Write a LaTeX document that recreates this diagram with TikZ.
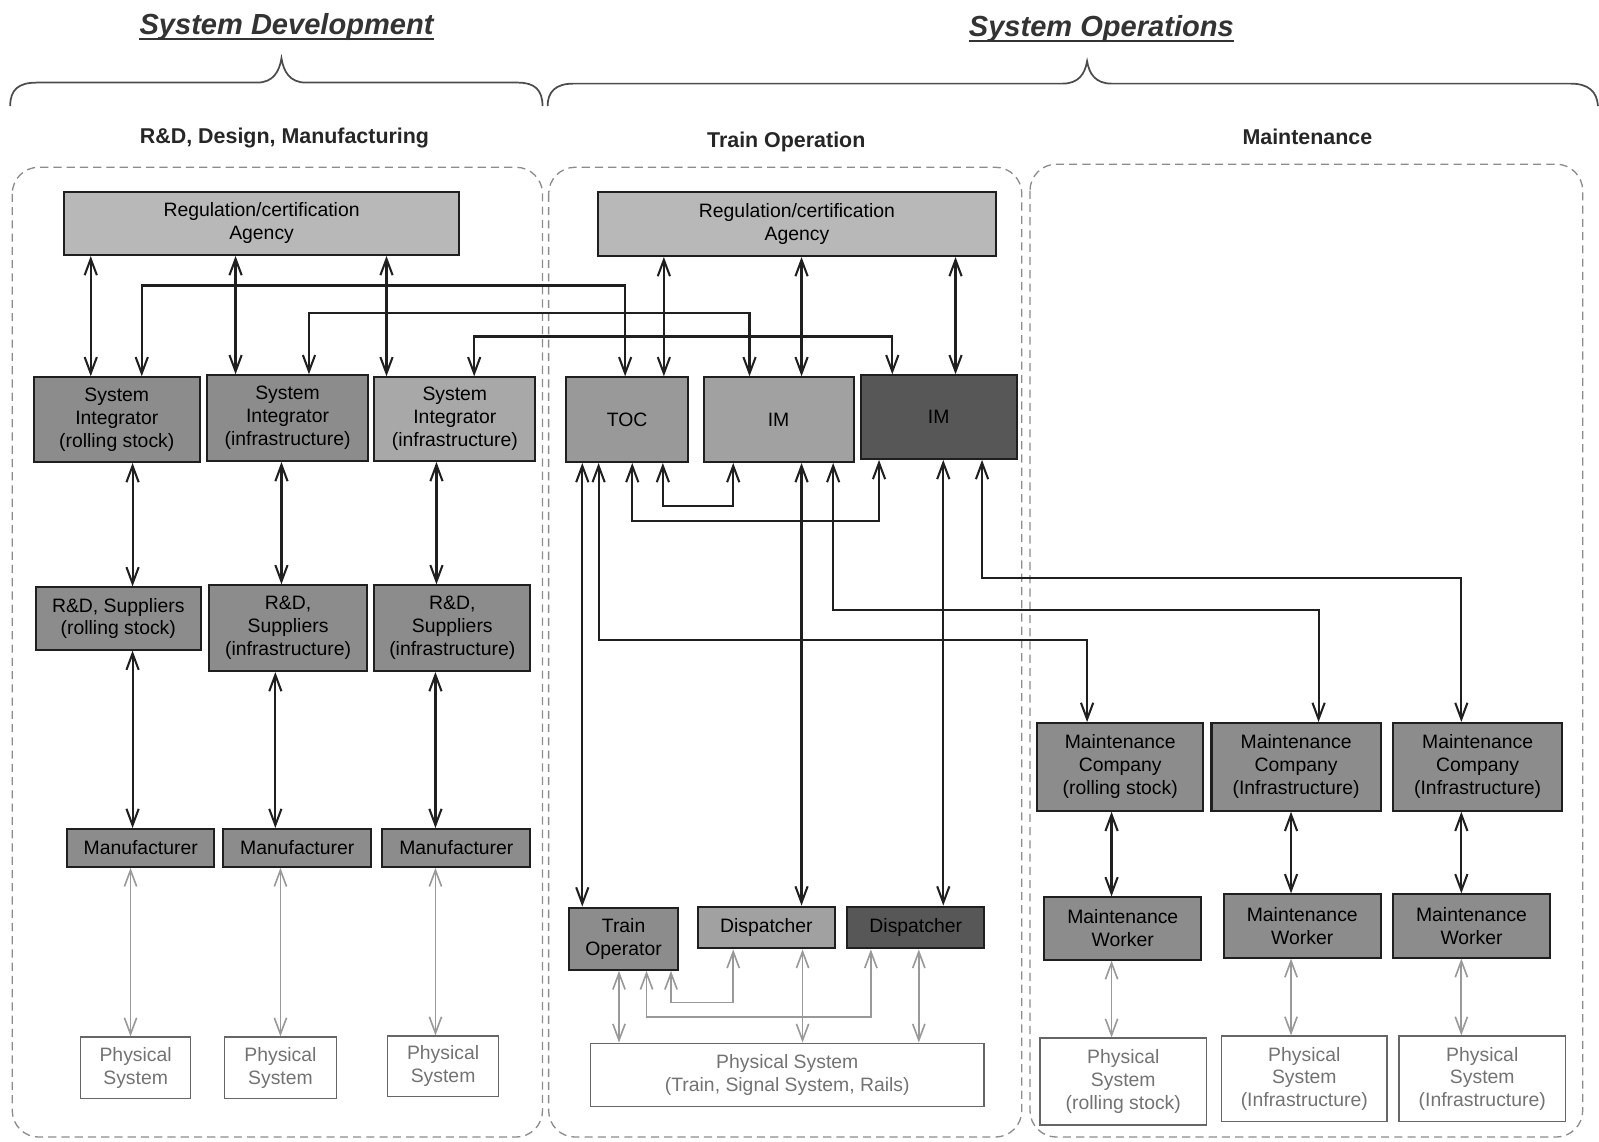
\documentclass[tikz,border=0pt]{standalone}
\usepackage{fontspec}
\setmainfont{Liberation Sans}
\usetikzlibrary{arrows.meta}

% box fills
\definecolor{cAgency}{gray}{0.72}
\definecolor{cMid}{gray}{0.55}
\definecolor{cLight}{gray}{0.66}
\definecolor{cToc}{gray}{0.60}
\definecolor{cIm}{gray}{0.63}
\definecolor{cDark}{gray}{0.34}
\definecolor{cEdge}{gray}{0.12}
\definecolor{cLink}{gray}{0.12}
\definecolor{cPhys}{gray}{0.60}
\definecolor{cPanel}{gray}{0.55}

\newcommand{\boxfont}{\fontsize{19}{22.5}\selectfont}
% style, name, x1, y1, x2, y2, fill, text
\newcommand{\mkbox}[8]{%
  \node[#1, fill=#7, minimum width={(#5-#3)*1pt}, minimum height={(#6-#4)*1pt}]
    (#2) at ({(#3+#5)/2},{(#4+#6)/2}) {#8};}

\begin{document}
\begin{tikzpicture}[x=1pt,y=-1pt,
  box/.style={draw=cEdge, line width=2pt, inner sep=0pt, align=center,
              font=\boxfont, text=black},
  physbox/.style={draw=black!60, line width=1.4pt, inner sep=0pt, align=center,
              font=\boxfont, text=black!55},
  panel/.style={draw=cPanel, line width=1.3pt, dash pattern=on 8pt off 5pt,
              rounded corners=26pt},
  bracepath/.style={draw=black!70, line width=1.7pt},
  link/.style={draw=cLink, line width=2.1pt,
              {Straight Barb[length=16pt,width=12pt,line width=2pt]}-{Straight Barb[length=16pt,width=12pt,line width=2pt]}},
  plink/.style={draw=cPhys, line width=1.7pt,
              {Straight Barb[length=16pt,width=12pt,line width=1.6pt]}-{Straight Barb[length=16pt,width=12pt,line width=1.6pt]}},
  heading/.style={font=\fontsize{21}{24}\selectfont\bfseries, text=black!85, inner sep=0pt},
  bigtitle/.style={font=\fontsize{28.5}{32}\selectfont\bfseries\itshape, text=black!80,
              inner sep=0pt, anchor=base}
]
\useasboundingbox (0,0) rectangle (1568,1119);

% ---------- titles and braces ----------
\node[bigtitle] (tdev) at (281,34) {System Development};
\draw[line width=2.4pt, black!80] ([yshift=-4pt]tdev.base west) -- ([yshift=-4pt]tdev.base east);
\node[bigtitle] (tops) at (1080,36) {System Operations};
\draw[line width=2.4pt, black!80] ([yshift=-4pt]tops.base west) -- ([yshift=-4pt]tops.base east);

\draw[bracepath] (10,104) .. controls (10,88) and (18,81) .. (36,81) -- (252,81)
  .. controls (268,81) and (274,70) .. (276,57)
  .. controls (278,70) and (284,81) .. (300,81) -- (508,81)
  .. controls (524,81) and (532,88) .. (532,104);
\draw[bracepath] (537,104) .. controls (537,90) and (545,82) .. (562,82) -- (1042,82)
  .. controls (1058,82) and (1064,72) .. (1066,60)
  .. controls (1068,72) and (1074,82) .. (1090,82) -- (1540,82)
  .. controls (1558,82) and (1566,90) .. (1567,104);

\node[heading] (hrd) at (279,135) {R\&D, Design, Manufacturing};
\node[heading] (htr) at (771,139) {Train Operation};
\node[heading] (hmt) at (1282,134) {Maintenance};

% ---------- panels ----------
\draw[panel] (12,164) rectangle (532,1115);
\draw[panel] (538,164) rectangle (1002,1115);
\draw[panel] (1010,161) rectangle (1552,1115);

% ---------- R&D, design, manufacturing ----------
\mkbox{box}{reg1}{63}{188}{450}{250}{cAgency}{Regulation/certification\\Agency}
\mkbox{box}{si1}{33}{370}{196}{453}{cMid}{System\\Integrator\\(rolling stock)}
\mkbox{box}{si2}{203}{368}{361}{452}{cMid}{System\\Integrator\\(infrastructure)}
\mkbox{box}{si3}{367}{370}{525}{452}{cLight}{System\\Integrator\\(infrastructure)}
\mkbox{box}{rd1}{35}{576}{197}{637}{cMid}{R\&D, Suppliers\\(rolling stock)}
\mkbox{box}{rd2}{205}{574}{360}{658}{cMid}{R\&D,\\Suppliers\\(infrastructure)}
\mkbox{box}{rd3}{367}{574}{520}{658}{cMid}{R\&D,\\Suppliers\\(infrastructure)}
\mkbox{box}{man1}{66}{813}{210}{850}{cMid}{Manufacturer}
\mkbox{box}{man2}{219}{813}{364}{850}{cMid}{Manufacturer}
\mkbox{box}{man3}{375}{813}{520}{850}{cMid}{Manufacturer}
\mkbox{physbox}{ph1}{79}{1017}{187}{1077}{white}{Physical\\System}
\mkbox{physbox}{ph2}{220}{1017}{330}{1077}{white}{Physical\\System}
\mkbox{physbox}{ph3}{380}{1016}{489}{1075}{white}{Physical\\System}

% ---------- train operation ----------
\mkbox{box}{reg2}{586}{188}{977}{251}{cAgency}{Regulation/certification\\Agency}
\mkbox{box}{toc}{555}{370}{675}{453}{cToc}{TOC}
\mkbox{box}{im1}{690}{370}{837}{453}{cIm}{IM}
\mkbox{box}{im2}{844}{368}{997}{450}{cDark}{IM}
\mkbox{box}{top}{558}{890}{665}{951}{cMid}{Train\\Operator}
\mkbox{box}{dp1}{684}{889}{819}{930}{cIm}{Dispatcher}
\mkbox{box}{dp2}{831}{889}{965}{930}{cDark}{Dispatcher}
\mkbox{physbox}{phs}{579}{1023}{965}{1085}{white}{Physical System\\(Train, Signal System, Rails)}

% ---------- maintenance ----------
\mkbox{box}{mc1}{1017}{709}{1180}{795}{cMid}{Maintenance\\Company\\(rolling stock)}
\mkbox{box}{mc2}{1188}{709}{1354}{795}{cMid}{Maintenance\\Company\\(Infrastructure)}
\mkbox{box}{mc3}{1366}{709}{1532}{795}{cMid}{Maintenance\\Company\\(Infrastructure)}
\mkbox{box}{mw1}{1024}{880}{1178}{941}{cMid}{Maintenance\\Worker}
\mkbox{box}{mw2}{1200}{877}{1354}{939}{cMid}{Maintenance\\Worker}
\mkbox{box}{mw3}{1366}{877}{1520}{939}{cMid}{Maintenance\\Worker}
\mkbox{physbox}{pm1}{1020}{1018}{1183}{1103}{white}{Physical\\System\\(rolling stock)}
\mkbox{physbox}{pm2}{1198}{1016}{1360}{1100}{white}{Physical\\System\\(Infrastructure)}
\mkbox{physbox}{pm3}{1372}{1016}{1535}{1100}{white}{Physical\\System\\(Infrastructure)}

% ---------- links: development ----------
\draw[link] (reg1.south -| 89,0) -- (si1.north -| 89,0);
\draw[link] (reg1.south -| 231,0) -- (si2.north -| 231,0);
\draw[link] (reg1.south -| 379,0) -- (si3.north -| 379,0);
\draw[link] (si1.north -| 139,0) -- (139,280) -- (613,280) -- (toc.north -| 613,0);
\draw[link] (si2.north -| 303,0) -- (303,307) -- (735,307) -- (im1.north -| 735,0);
\draw[link] (si3.north -| 465,0) -- (465,330) -- (875,330) -- (im2.north -| 875,0);
\draw[link] (si1.south -| 130,0) -- (rd1.north -| 130,0);
\draw[link] (si2.south -| 276,0) -- (rd2.north -| 276,0);
\draw[link] (si3.south -| 428,0) -- (rd3.north -| 428,0);
\draw[link] (rd1.south -| 130,0) -- (man1.north -| 130,0);
\draw[link] (rd2.south -| 270,0) -- (man2.north -| 270,0);
\draw[link] (rd3.south -| 427,0) -- (man3.north -| 427,0);
\draw[plink] (man1.south -| 128,0) -- (ph1.north -| 128,0);
\draw[plink] (man2.south -| 275,0) -- (ph2.north -| 275,0);
\draw[plink] (man3.south -| 427,0) -- (ph3.north -| 427,0);

% ---------- links: operation ----------
\draw[link] (reg2.south -| 651,0) -- (toc.north -| 651,0);
\draw[link] (reg2.south -| 786,0) -- (im1.north -| 786,0);
\draw[link] (reg2.south -| 937,0) -- (im2.north -| 937,0);
\draw[link] (toc.south -| 571,0) -- (top.north -| 571,0);
\draw[link] (toc.south -| 650,0) -- (650,496) -- (719,496) -- (im1.south -| 719,0);
\draw[link] (toc.south -| 620,0) -- (620,511) -- (862,511) -- (im2.south -| 862,0);
\draw[link] (toc.south -| 587,0) -- (587,628) -- (1066,628) -- (mc1.north -| 1066,0);
\draw[link] (im1.south -| 786,0) -- (dp1.north -| 786,0);
\draw[link] (im1.south -| 817,0) -- (817,598) -- (1293,598) -- (mc2.north -| 1293,0);
\draw[link] (im2.south -| 925,0) -- (dp2.north -| 925,0);
\draw[link] (im2.south -| 963,0) -- (963,567) -- (1433,567) -- (mc3.north -| 1433,0);
\draw[plink] (top.south -| 607,0) -- (phs.north -| 607,0);
\draw[plink] (top.south -| 658,0) -- (658,983) -- (719,983) -- (dp1.south -| 719,0);
\draw[plink] (top.south -| 634,0) -- (634,997) -- (854,997) -- (dp2.south -| 854,0);
\draw[plink] (dp1.south -| 787,0) -- (phs.north -| 787,0);
\draw[plink] (dp2.south -| 901,0) -- (phs.north -| 901,0);

% ---------- links: maintenance ----------
\draw[link] (mc1.south -| 1090,0) -- (mw1.north -| 1090,0);
\draw[link] (mc2.south -| 1266,0) -- (mw2.north -| 1266,0);
\draw[link] (mc3.south -| 1433,0) -- (mw3.north -| 1433,0);
\draw[plink] (mw1.south -| 1090,0) -- (pm1.north -| 1090,0);
\draw[plink] (mw2.south -| 1266,0) -- (pm2.north -| 1266,0);
\draw[plink] (mw3.south -| 1433,0) -- (pm3.north -| 1433,0);
\end{tikzpicture}
\end{document}
